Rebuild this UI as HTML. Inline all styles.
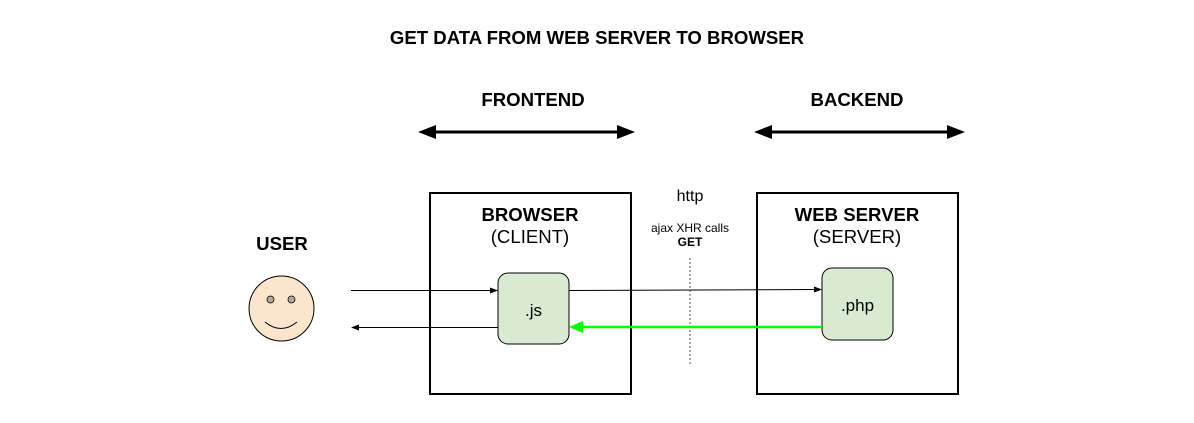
<!DOCTYPE html>
<html><head><meta charset="utf-8"><style>
html,body{margin:0;padding:0;background:#fff;}
svg{display:block;font-family:"Liberation Sans",Arial,sans-serif;}
</style></head><body>
<svg width="1194" height="423" viewBox="0 0 1194 423" xmlns="http://www.w3.org/2000/svg">
<rect width="1194" height="423" fill="#fff"/>
<text x="597" y="44" font-size="18.6" font-weight="bold" text-anchor="middle" fill="#000">GET DATA FROM WEB SERVER TO BROWSER</text>
<text x="533" y="106" font-size="18.6" font-weight="bold" text-anchor="middle">FRONTEND</text>
<text x="857" y="106" font-size="18.6" font-weight="bold" text-anchor="middle">BACKEND</text>
<line x1="432" y1="132" x2="621" y2="132" stroke="#000" stroke-width="3"/>
<polygon points="418,132 436,125 436,139" fill="#000"/>
<polygon points="635,132 617,125 617,139" fill="#000"/>
<line x1="768" y1="132" x2="951" y2="132" stroke="#000" stroke-width="3"/>
<polygon points="754,132 772,125 772,139" fill="#000"/>
<polygon points="965,132 947,125 947,139" fill="#000"/>
<rect x="430" y="193" width="201" height="201" fill="none" stroke="#000" stroke-width="2"/>
<rect x="757" y="193" width="201" height="201" fill="none" stroke="#000" stroke-width="2"/>
<text x="530" y="221" font-size="18.6" font-weight="bold" text-anchor="middle">BROWSER</text>
<text x="530" y="243" font-size="18.6" text-anchor="middle">(CLIENT)</text>
<text x="857" y="221" font-size="18.6" font-weight="bold" text-anchor="middle">WEB SERVER</text>
<text x="857" y="243" font-size="18.6" text-anchor="middle">(SERVER)</text>
<rect x="498" y="273" width="71" height="71" rx="10" fill="#d9ead3" stroke="#000" stroke-width="1"/>
<text x="533.5" y="316" font-size="17" text-anchor="middle">.js</text>
<rect x="822" y="268" width="71" height="72" rx="10" fill="#d9ead3" stroke="#000" stroke-width="1"/>
<text x="857.5" y="311" font-size="17" text-anchor="middle">.php</text>
<text x="690" y="201" font-size="16" text-anchor="middle">http</text>
<text x="690" y="232" font-size="12" text-anchor="middle">ajax XHR calls</text>
<text x="690" y="246" font-size="12" font-weight="bold" text-anchor="middle">GET</text>
<line x1="690" y1="258" x2="690" y2="366" stroke="#555" stroke-width="1" stroke-dasharray="2,2"/>
<text x="282" y="250" font-size="18.6" font-weight="bold" text-anchor="middle">USER</text>
<circle cx="281.5" cy="308.5" r="32.5" fill="#fce5cd" stroke="#000" stroke-width="1"/>
<circle cx="270.5" cy="299.5" r="3.5" fill="#b7a89a" stroke="#000" stroke-width="0.8"/>
<circle cx="291.5" cy="299.5" r="3.5" fill="#b7a89a" stroke="#000" stroke-width="0.8"/>
<path d="M265 322 Q281 335 297 322" fill="none" stroke="#000" stroke-width="1"/>
<line x1="351" y1="290.5" x2="492" y2="290.5" stroke="#000" stroke-width="1"/>
<polygon points="498,290.5 490,287.5 490,293.5" fill="#000"/>
<line x1="357" y1="327.5" x2="498" y2="327.5" stroke="#000" stroke-width="1"/>
<polygon points="351,327.5 359,324.5 359,330.5" fill="#000"/>
<line x1="569" y1="290.5" x2="815" y2="289.5" stroke="#000" stroke-width="1"/>
<polygon points="822,289.5 814,286.5 814,292.5" fill="#000"/>
<line x1="580" y1="327" x2="822" y2="327" stroke="#00ff00" stroke-width="2.5"/>
<polygon points="569,327 583,321 583,333" fill="#00ff00"/>
</svg>
</body></html>
